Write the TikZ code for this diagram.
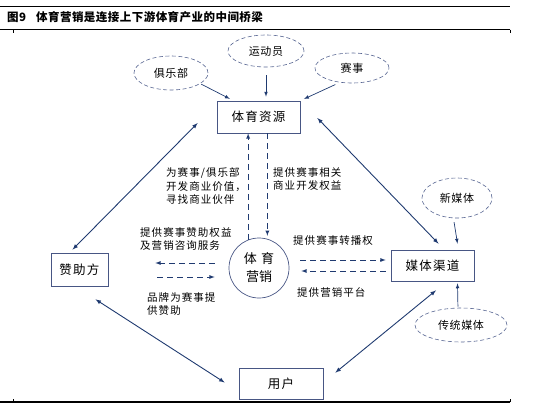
\documentclass[tikz,border=0pt]{standalone}
\usepackage{fontspec}
\setmainfont{Noto Sans CJK SC}
\usetikzlibrary{arrows,calc,shapes.geometric}
\usepackage{tkz-euclide}

\definecolor{lineblue}{RGB}{31,58,112}
\definecolor{boxblue}{RGB}{72,86,132}
\definecolor{dashblue}{RGB}{88,102,146}

\begin{document}
\begin{tikzpicture}[x=1pt,y=-1pt]
\tikzset{block/.style={draw=boxblue,line width=.7pt,minimum width=83pt,minimum height=32pt,inner sep=0pt,font=\fontsize{12.5}{14}\selectfont\addfontfeatures{LetterSpace=10}},
  party/.style={ellipse,draw=dashblue,dash pattern=on 4pt off 2.5pt,line width=.6pt,inner sep=0pt,font=\fontsize{11}{13}\selectfont\addfontfeatures{LetterSpace=6}},
  link/.style={latex-latex,line width=.9pt,color=lineblue},
  feed/.style={-latex,line width=.7pt,color=lineblue},
  flow/.style={-latex,line width=.8pt,color=lineblue,dash pattern=on 6pt off 4pt},
  note/.style={anchor=west,align=left,inner sep=0pt,font=\fontsize{10.5}{13.5}\selectfont\addfontfeatures{LetterSpace=10}}}

\path[use as bounding box] (0,0) rectangle (547,407);

\tkzDefPoints{258.5/117/R,79.5/269.5/S,432.5/265.5/M,281/383.5/U,259/268/C}
\tkzDefPoints{171/73/J,266/51/Y,352/68/E,457/198/N,461/325/T}

\draw[line width=.5pt] (0,6) -- (510,6);
\draw[line width=1.2pt] (0,29.5) -- (510,29.5);
\draw[line width=1.2pt] (0,402) -- (510,402);
\draw[line width=.6pt] (13,29.5) -- (13,33) (510,29.5) -- (510,33);
\draw[line width=.6pt] (13,402) -- (13,399) (510,402) -- (510,399);
\node[anchor=west,inner sep=0pt,font=\bfseries\fontsize{11.5}{13}\selectfont\addfontfeatures{LetterSpace=4}] (title) at (7,17) {图9\hspace{10pt}体育营销是连接上下游体育产业的中间桥梁};

\node[block] (res) at (R) {体育资源};
\node[block,minimum width=57pt,minimum height=33pt] (spons) at (S) {赞助方};
\node[block,minimum height=31pt] (media) at (M) {媒体渠道};
\node[block,minimum width=84pt,minimum height=31pt] (user) at (U) {用户};
\node[circle,draw=boxblue,line width=.7pt,minimum size=60pt,inner sep=0pt,align=center,font=\fontsize{13}{18}\selectfont] (core) at (C) {体\,\,育\\营销};

\node[party,minimum width=74pt,minimum height=34pt] (club) at (J) {俱乐部};
\node[party,minimum width=76pt,minimum height=32pt] (player) at (Y) {运动员};
\node[party,minimum width=74pt,minimum height=30pt] (event) at (E) {赛事};
\node[party,minimum width=70pt,minimum height=40pt] (newm) at (N) {新媒体};
\node[party,minimum width=92pt,minimum height=34pt] (trad) at (T) {传统媒体};

\draw[feed,shorten <=1pt,shorten >=4pt] (club.-20) -- ($(res.north west)!.4!(res.north)$);
\draw[feed,shorten <=8pt,shorten >=4pt] (player.south) -- (player.south |- res.north);
\draw[feed,shorten <=5pt,shorten >=4pt] (event.230) -- (res.north east);
\draw[feed,shorten <=4pt] (newm.260) -- ($(media.north)+(25,-6)$);
\draw[feed,shorten <=1pt] (trad.100) -- ($(media.south)+(25,2)$);

\draw[link] ($(res.west)+(-19,6)$) -- ($(spons.north)+(-7,-3)$);
\draw[link] ($(res.east)+(17,1)$) -- ($(media.north)+(6,-6)$);
\draw[link] ($(spons.south)+(16,13)$) -- ($(user.west)+(-14,-1)$);
\draw[link] ($(media.south)+(3.5,9)$) -- ($(user.north east)+(12,5)$);

\draw[flow] (core.111) -- (core.111 |- res.south);
\draw[flow,shorten >=3pt] (core.74 |- res.south) -- (core.74);
\draw[flow] ($(core.west)+(-14,-5)$) -- ($(spons.east)+(47,-6.5)$);
\draw[flow] ($(spons.east)+(49,7.5)$) -- ($(core.west)+(-14,9)$);
\draw[flow] ($(core.east)+(11,-8)$) -- ($(media.west)+(-5,-5.5)$);
\draw[flow] ($(media.west)+(-5,5.5)$) -- ($(core.east)+(12,3)$);

\node[note] (tA) at (166,186) {为赛事/俱乐部\\开发商业价值，\\寻找商业伙伴};
\node[note] (tB) at (273,179) {提供赛事相关\\商业开发权益};
\node[note] (tC) at (140,239) {提供赛事赞助权益\\及营销咨询服务};
\node[note] (tD) at (147,304) {品牌为赛事提\\供赞助};
\node[note] (tE) at (293,240) {提供赛事转播权};
\node[note] (tF) at (297,293) {提供营销平台};

\end{tikzpicture}
\end{document}
